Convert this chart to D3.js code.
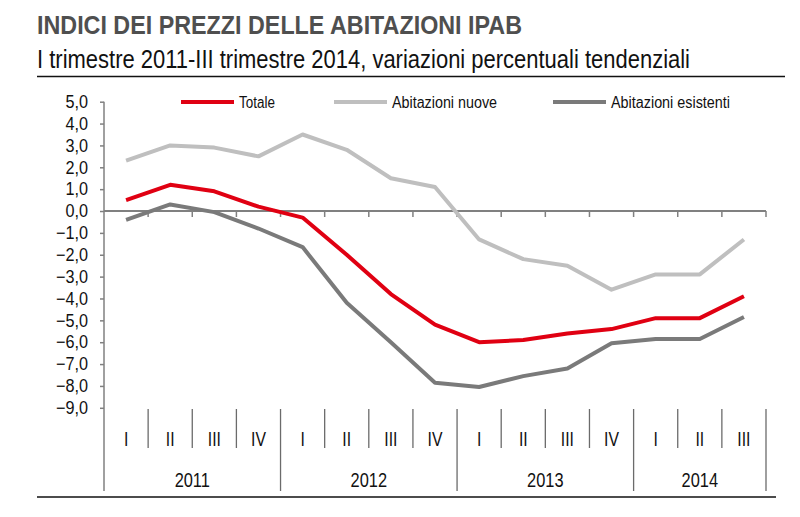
<!DOCTYPE html>
<html><head><meta charset="utf-8">
<script src="https://cdn.jsdelivr.net/npm/d3@7/dist/d3.min.js"></script>
<style>body{margin:0;background:#fff}svg{display:block}</style>
</head><body>
<svg id="c" width="800" height="517"></svg>
<script>
const quarters = ["I","II","III","IV","I","II","III","IV","I","II","III","IV","I","II","III"];
const years = ["2011","2012","2013","2014"];
const yearQuarterCounts = [4,4,4,3];
const totale = [0.5,1.2,0.9,0.2,-0.3,-2.0,-3.8,-5.2,-6.0,-5.9,-5.6,-5.4,-4.9,-4.9,-3.9];
const nuove = [2.3,3.0,2.9,2.5,3.5,2.8,1.5,1.1,-1.3,-2.2,-2.5,-3.6,-2.9,-2.9,-1.3];
const esistenti = [-0.4,0.3,-0.05,-0.8,-1.65,-4.2,-6.0,-7.85,-8.05,-7.55,-7.2,-6.05,-5.85,-5.85,-4.85];
const yTicks = [5,4,3,2,1,0,-1,-2,-3,-4,-5,-6,-7,-8,-9];
const seriesNames = ["Totale","Abitazioni nuove","Abitazioni esistenti"];
const seriesColors = ["#e00012","#bfbfbf","#7a7a7a"];

const svg = d3.select("#c");
const font = "'Liberation Sans',Arial,Helvetica,sans-serif";

// squeeze helper: compress text horizontally by factor
function squeeze(sel, f){
  sel.each(function(){
    const w = this.getComputedTextLength();
    d3.select(this).attr("textLength", w*f).attr("lengthAdjust","spacingAndGlyphs");
  });
}

// titles
svg.append("text").attr("x",37).attr("y",34).attr("font-family",font).attr("font-weight","bold")
  .attr("font-size",26).attr("fill","#4f4f4f").attr("textLength",485).attr("lengthAdjust","spacingAndGlyphs")
  .text("INDICI DEI PREZZI DELLE ABITAZIONI IPAB");
svg.append("text").attr("x",37).attr("y",68).attr("font-family",font)
  .attr("font-size",25).attr("fill","#111").attr("textLength",653).attr("lengthAdjust","spacingAndGlyphs")
  .text("I trimestre 2011-III trimestre 2014, variazioni percentuali tendenziali");
svg.append("line").attr("x1",37).attr("x2",785).attr("y1",76.5).attr("y2",76.5).attr("stroke","#111").attr("stroke-width",1.5);

const idx = d3.range(quarters.length);
const x = d3.scaleBand().domain(idx).range([104,766]).padding(0);
const y = d3.scaleLinear().domain([-9,5]).range([407.8,101.7]);
const cx = i => x(i) + x.bandwidth()/2;

// y axis
const yAxis = d3.axisLeft(y).tickValues(yTicks).tickSize(4).tickFormat(d => d3.format(".1f")(d).replace(".",","));
const ga = svg.append("g").attr("transform","translate(104,0)").call(yAxis);
ga.select(".domain").remove();
ga.selectAll(".tick line").attr("stroke","#808080").attr("stroke-width",1.5);
ga.selectAll(".tick text").attr("font-family",font).attr("font-size",18).attr("fill","#111").attr("x",-16);
squeeze(ga.selectAll(".tick text"), 0.9);
svg.append("line").attr("x1",104).attr("x2",104).attr("y1",y(5)).attr("y2",491).attr("stroke","#808080").attr("stroke-width",1.5);

// zero line with ticks at band boundaries
const xAxis = d3.axisBottom(x).tickSize(0).tickFormat("");
const gz = svg.append("g").attr("transform",`translate(0,${y(0)})`).call(xAxis);
gz.select(".domain").attr("stroke","#808080").attr("stroke-width",2).attr("d",`M104,0H766`);
gz.selectAll(".tick").remove();
svg.append("g").selectAll("line").data(d3.range(1,quarters.length+1)).join("line")
  .attr("x1",i => x(i-1)+x.bandwidth()).attr("x2",i => x(i-1)+x.bandwidth())
  .attr("y1",y(0)).attr("y2",y(0)+6).attr("stroke","#808080").attr("stroke-width",1.5);

// lines
const line = d3.line().x((d,i)=>cx(i)).y(d=>y(d));
[nuove,esistenti,totale].forEach((s)=>{
  const k = [totale,nuove,esistenti].indexOf(s);
  svg.append("path").datum(s).attr("d",line).attr("fill","none")
    .attr("stroke",seriesColors[k]).attr("stroke-width",4).attr("stroke-linejoin","round");
});

// legend
const legX = [181,334,553];
const legW = [36,105,119];
seriesNames.forEach((n,k)=>{
  svg.append("line").attr("x1",legX[k]).attr("x2",legX[k]+53).attr("y1",102).attr("y2",102)
    .attr("stroke",seriesColors[k]).attr("stroke-width",4);
  svg.append("text").attr("x",legX[k]+58).attr("y",107.5).attr("font-family",font).attr("font-size",16)
    .attr("fill","#111").attr("textLength",legW[k]).attr("lengthAdjust","spacingAndGlyphs").text(n);
});

// category axis: quarters
const gq = svg.append("g");
idx.forEach(i=>{
  gq.append("text").attr("x",cx(i)).attr("y",446).attr("text-anchor","middle").attr("font-family",font)
    .attr("font-size",21).attr("fill","#111").text(quarters[i]);
});
squeeze(gq.selectAll("text"), 0.75);
// separators
let start = 0;
const yearBounds = [];
yearQuarterCounts.forEach((c,k)=>{ yearBounds.push([start,start+c]); start += c; });
d3.range(1,quarters.length).forEach(i=>{
  const isYear = yearBounds.some(b=>b[0]===i);
  svg.append("line").attr("x1",x(i)).attr("x2",x(i)).attr("y1",409).attr("y2",isYear?491:448)
    .attr("stroke","#6b6b6b").attr("stroke-width",1.3);
});
svg.append("line").attr("x1",766).attr("x2",766).attr("y1",409).attr("y2",491).attr("stroke","#6b6b6b").attr("stroke-width",1.3);
const gy = svg.append("g");
yearBounds.forEach((b,k)=>{
  const mid = (x(b[0]) + (b[1]<quarters.length ? x(b[1]) : 766))/2;
  gy.append("text").attr("x",mid).attr("y",487).attr("text-anchor","middle").attr("font-family",font)
    .attr("font-size",21).attr("fill","#111").text(years[k]);
});
squeeze(gy.selectAll("text"), 0.78);
svg.append("line").attr("x1",37).attr("x2",776).attr("y1",497).attr("y2",497).attr("stroke","#111").attr("stroke-width",1.5);
</script>
</body></html>
